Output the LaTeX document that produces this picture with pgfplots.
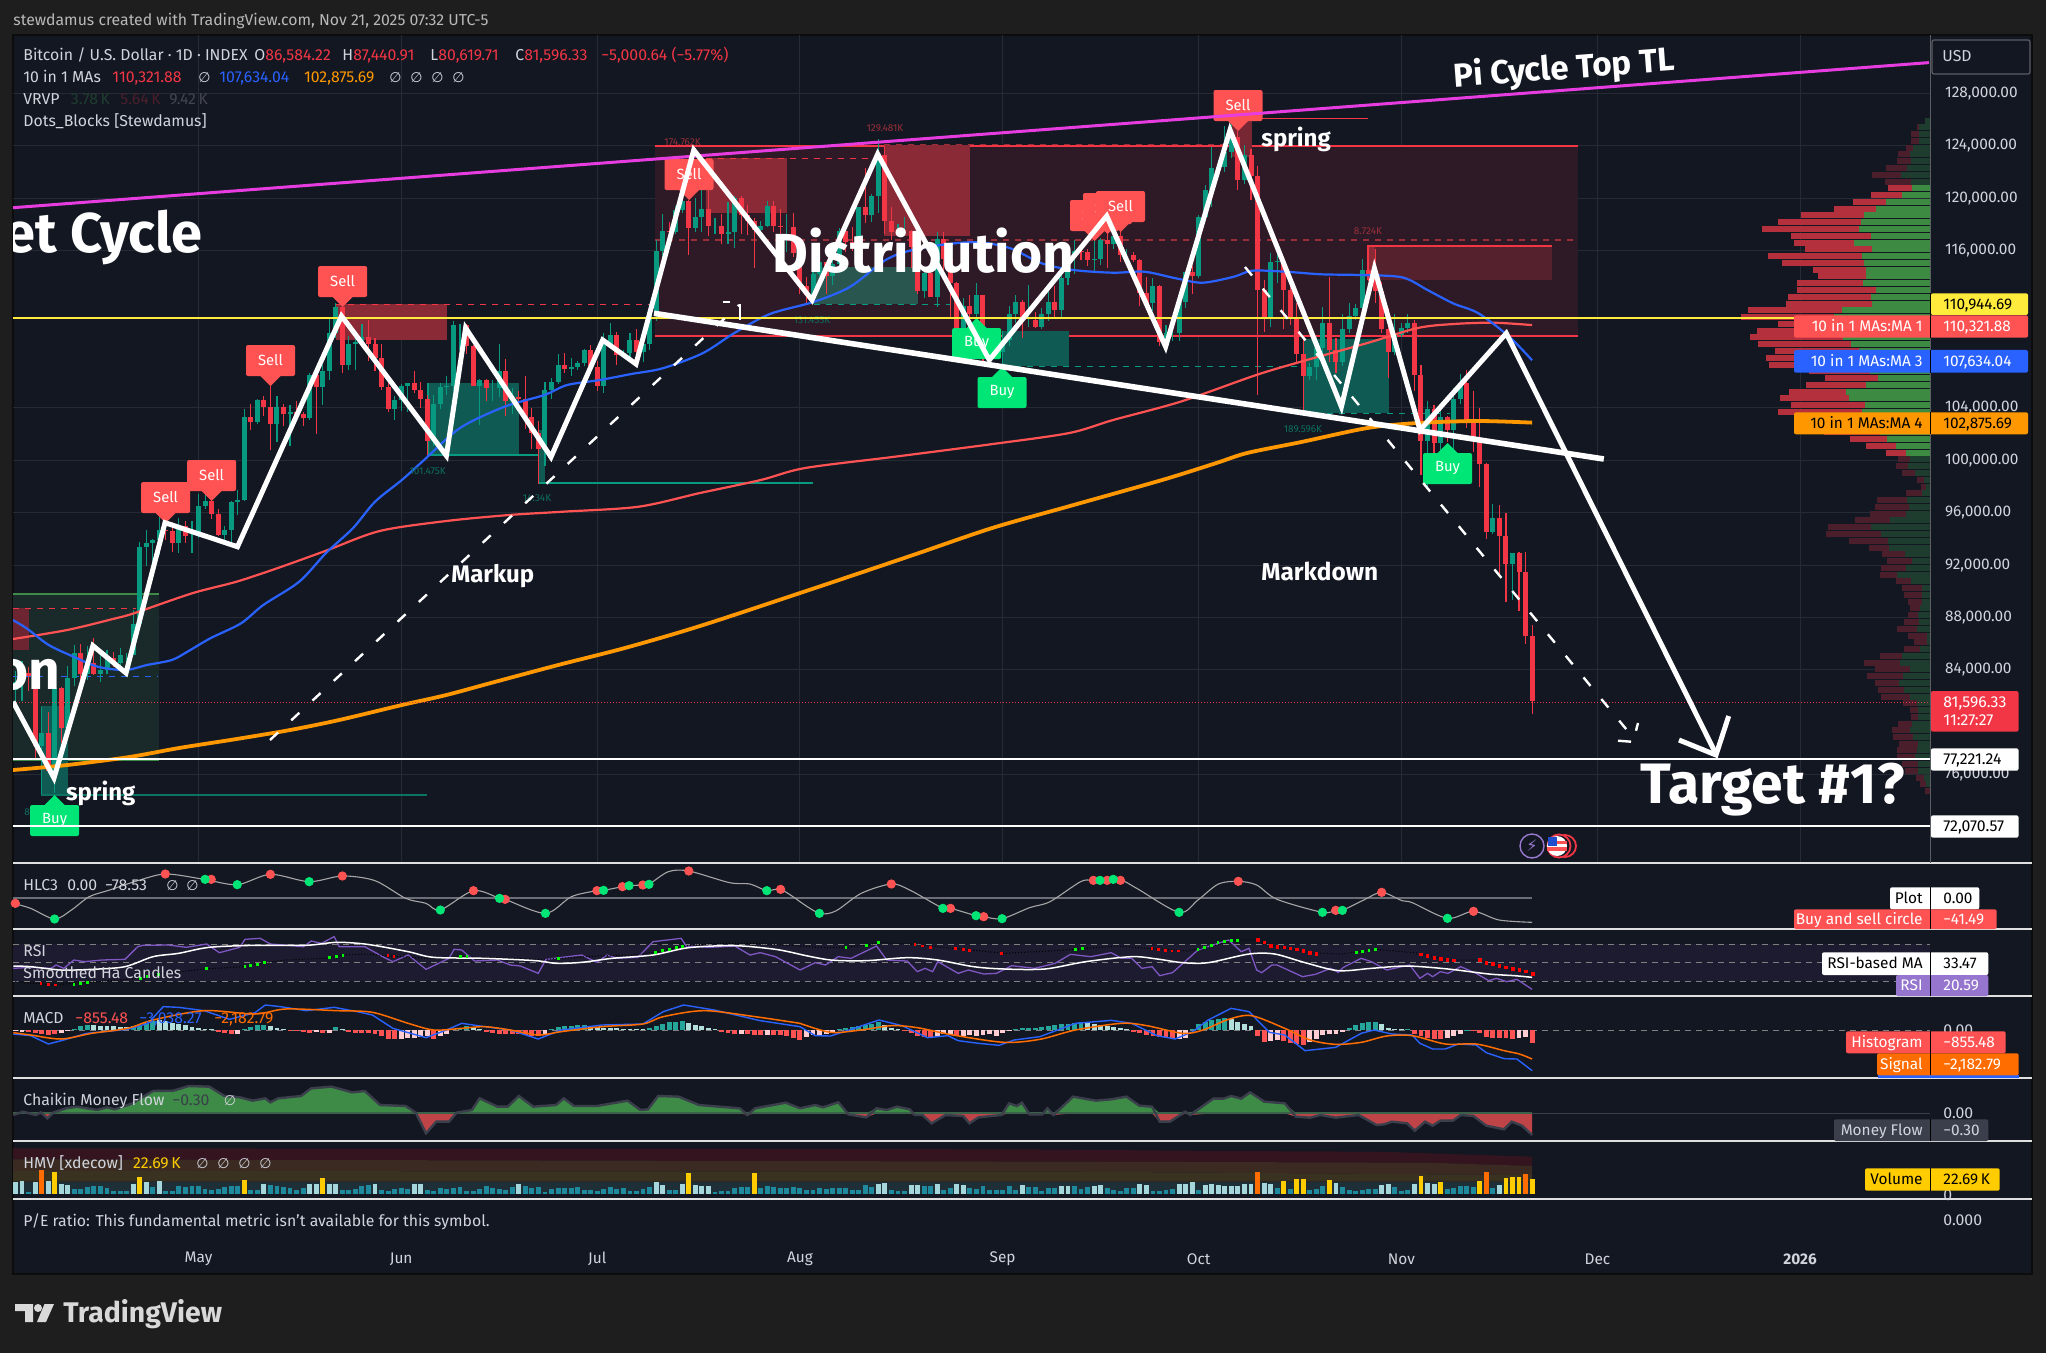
\documentclass[border=0pt]{standalone}
\usepackage{pgfplots}
\pgfplotsset{compat=1.18}
\usepackage{pgfplotstable}
\usepackage{fontspec}
\setmainfont{Fira Sans}
\newfontfamily\symf{DejaVu Sans}
\newcommand\fs[1]{\fontsize{#1}{#1}\selectfont}
\newcommand\nul{{\symf\fs{7}∅}}
\definecolor{page}{HTML}{1E1E1E}
\definecolor{chart}{HTML}{131722}
\definecolor{tick}{HTML}{D1D4DC}
\definecolor{cup}{HTML}{089981}
\definecolor{cdn}{HTML}{F23645}
\definecolor{tvred}{HTML}{FF5252}
\definecolor{tvgreen}{HTML}{00E676}
\definecolor{tvblue}{HTML}{2962FF}
\definecolor{tvorange}{HTML}{FF9800}
\definecolor{macdorange}{HTML}{FF6D00}
\definecolor{tvyellow}{HTML}{FFEB3B}
\definecolor{volyellow}{HTML}{FFCC00}
\definecolor{rsi}{HTML}{7E57C2}
\definecolor{rsitag}{HTML}{9575CD}
\definecolor{pink}{HTML}{E63CE0}
\definecolor{zonebg}{HTML}{2D1A26}
\definecolor{zonered}{HTML}{892A36}
\definecolor{zonegreen}{HTML}{0F5A52}
\definecolor{zonegreenb}{HTML}{2A5650}
\definecolor{lightzone}{HTML}{1A2A2A}
\definecolor{kred}{HTML}{9A2F3A}
\definecolor{kgreen}{HTML}{0D6E5E}
\definecolor{vrg}{HTML}{3D8A43}
\definecolor{vrr}{HTML}{B3303C}
\definecolor{vdg}{HTML}{1F3D2F}
\definecolor{vdr}{HTML}{4A1F2B}
\definecolor{histt}{HTML}{26A69A}
\definecolor{histl}{HTML}{B2DFDB}
\definecolor{histp}{HTML}{FFCDD2}
\definecolor{volt}{HTML}{1F8A9E}
\definecolor{voll}{HTML}{A5D6DC}
\definecolor{cmfg}{HTML}{3D8B46}
\definecolor{cmfr}{HTML}{BF4448}
\definecolor{cmfl}{HTML}{3A3F4B}
\definecolor{band}{HTML}{1D1B30}
\definecolor{lineg}{HTML}{6B6E76}
\definecolor{HMVa}{HTML}{34141F}
\definecolor{HMVb}{HTML}{3A2A22}
\definecolor{HMVc}{HTML}{3A3220}
\definecolor{HMVd}{HTML}{1E2F38}

% candles: day (0 = 1 May 2025), open, high, low, close
\pgfplotstableread{
d o h l c
-28 82500 83900 81200 83100
-27 83100 84700 81600 83800
-26 83800 84200 82400 83500
-25 83500 83800 77100 78200
-24 78200 81200 74500 79200
-23 79200 80800 76200 76300
-22 76300 83500 74600 82600
-21 82600 82700 78400 79600
-20 79600 84300 79000 83400
-19 83400 85900 82800 85300
-18 85300 86000 83000 83700
-17 83700 85800 83200 84500
-16 84500 86400 83600 83700
-15 83700 85500 83100 84000
-14 84000 85500 83700 84900
-13 84900 85400 84200 84500
-12 84500 85700 84400 85100
-11 85100 85300 83900 85100
-10 85100 88600 85100 87500
-9 87500 93800 87100 93400
-8 93400 94700 91900 93700
-7 93700 94000 91700 93900
-6 93900 95700 92800 94700
-5 94700 95300 93900 94600
-4 94600 95300 93000 93700
-3 93700 95600 92900 95000
-2 95000 95400 93700 94200
-1 94200 95400 92900 94200
0 94200 97400 94100 96500
1 96500 97900 96300 96900
2 96900 97000 95500 95900
3 95900 96300 94200 94300
4 94300 95000 93500 94700
5 94700 96900 93400 96800
6 96800 97700 95800 97000
7 97000 103900 96900 103300
8 103300 104300 102300 102900
9 102900 104700 102800 104600
10 104600 104900 103400 104100
11 104100 105800 100800 102800
12 102800 104900 101400 104100
13 104100 104300 102600 103500
14 103500 104200 101100 103700
15 103700 104500 103100 103500
16 103500 103700 102600 103200
17 103200 106700 103100 106500
18 106500 107100 102000 105600
19 105600 107300 104200 106800
20 106800 110800 106100 109700
21 109700 112000 109300 111700
22 111700 111900 106700 107300
23 107300 109500 106900 108900
24 108900 109300 106900 109000
25 109000 110400 108700 109400
26 109400 110700 107600 108900
27 108900 109300 106800 107800
28 107800 108900 105400 105600
29 105600 106300 103700 103900
30 103900 104900 103100 104600
31 104600 105800 103800 105700
32 105700 105900 103700 105900
33 105900 106800 105100 105400
34 105400 106000 104000 104700
35 104700 105000 100400 101500
36 101500 105000 101100 104300
37 104300 105900 103900 105600
38 105600 106400 105000 105700
39 105700 110600 105300 110300
40 110300 110400 108400 110300
41 110300 110400 108100 108700
42 108700 108800 105700 105700
43 105700 106200 102700 106100
44 106100 106200 104500 105500
45 105500 106100 104500 105500
46 105500 108900 104800 106800
47 106800 107700 103400 104500
48 104500 105500 103500 104800
49 104800 105300 103900 104700
50 104700 106400 102400 103300
51 103300 104000 100900 102100
52 102100 103000 98200 100900
53 100900 106000 99600 105400
54 105400 106300 104700 106000
55 106000 108100 105800 107300
56 107300 108200 106700 107000
57 107000 107800 106400 107100
58 107100 107600 106900 107400
59 107400 108500 107200 108400
60 108400 108800 106700 107100
61 107100 107600 105300 105700
62 105700 109700 105100 108900
63 108900 110500 108600 109600
64 109600 109800 107300 108000
65 108000 108400 107800 108200
66 108200 109700 107800 109200
67 109200 110000 107500 108300
68 108300 109200 107500 108900
69 108900 111900 108400 111300
70 111300 116800 110600 116000
71 116000 118800 115200 117500
72 117500 118200 116900 117400
73 117400 119400 117300 119100
74 119100 123200 118900 119800
75 119800 119900 115700 117700
76 117700 120000 117400 118600
77 118600 120800 117400 119200
78 119200 120600 117100 117900
79 117900 118500 117300 117900
80 117900 118800 116500 117300
81 117300 119700 116500 117400
82 117400 120200 116200 120000
83 120000 120200 117300 118700
84 118700 119500 117200 118300
85 118300 118500 114700 117600
86 117600 118300 117200 117900
87 117900 119800 117800 119400
88 119400 119800 117400 117900
89 117900 119200 117000 117800
90 117800 118800 115900 117800
91 117800 118900 115500 115800
92 115800 116000 112700 113300
93 113300 114000 112000 112600
94 112600 114500 111900 114200
95 114200 115700 114100 115100
96 115100 115100 112700 114100
97 114100 115700 113400 115000
98 115000 117700 114300 117500
99 117500 117600 115900 116700
100 116700 117800 116000 116500
101 116500 119300 116500 119300
102 119300 122300 118100 118700
103 118700 120300 118200 120200
104 120200 124500 118900 123300
105 123300 124000 117300 118300
106 118300 119300 116800 117400
107 117400 118000 117300 117500
108 117500 118600 117200 117500
109 117500 117600 114700 116300
110 116300 116800 112700 112900
111 112900 114600 112400 114300
112 114300 114800 112600 112500
113 112500 117400 111700 116900
114 116900 117400 114500 115400
115 115400 115700 110800 113500
116 113500 113600 108700 110100
117 110100 112400 108700 111800
118 111800 112600 110300 111200
119 111200 113500 110900 112600
120 112600 112600 107500 108400
121 108400 108900 107400 108800
122 108800 109500 108000 108300
123 108300 109900 107300 109200
124 109200 111800 108700 111200
125 111200 112600 110500 112100
126 112100 112200 109300 110700
127 110700 113400 110200 110700
128 110700 111300 110100 110200
129 110200 111600 110000 111200
130 111200 112900 110600 112100
131 112100 113300 110800 111500
132 111500 114300 110900 113900
133 113900 115400 113400 115500
134 115500 116800 114200 116000
135 116000 116300 115300 115900
136 115900 116100 114800 115300
137 115300 116800 114300 115400
138 115400 117000 114900 116800
139 116800 117900 114700 116500
140 116500 117900 116100 117100
141 117100 117500 115100 115700
142 115700 116100 115400 115700
143 115700 115900 115100 115300
144 115300 115400 111800 112800
145 112800 114000 111600 112000
146 112000 113900 111400 113300
147 113300 113400 108700 109000
148 109000 110300 108600 109700
149 109700 110000 109100 109700
150 109700 112400 109100 112100
151 112100 114400 111600 114400
152 114400 114800 112700 114100
153 114100 118700 113900 118600
154 118600 121000 118300 120600
155 120600 123900 119300 122300
156 122300 122900 121600 122400
157 122400 125500 122000 123500
158 123500 126200 123100 124700
159 124700 125100 120600 121400
160 121400 124100 121100 123300
161 123300 123800 119900 121700
162 121700 122500 105000 113000
163 113000 113800 109800 110800
164 110800 115800 110200 115100
165 115100 115900 113500 115200
166 115200 115500 110000 113000
167 113000 113600 110300 110800
168 110800 112000 107400 108100
169 108100 109200 103700 106400
170 106400 107400 106100 107100
171 107100 109400 106100 108600
172 108600 111700 107400 110500
173 110500 114000 107500 108400
174 108400 109300 106700 107500
175 107500 111200 107200 110000
176 110000 112000 109700 111000
177 111000 111900 110700 111600
178 111600 115400 111300 114500
179 114500 116400 113700 114100
180 114100 116100 112000 112900
181 112900 113600 109700 110000
182 110000 111600 106300 108300
183 108300 111200 108000 109600
184 109600 110500 109400 110100
185 110100 111200 109700 110500
186 110500 110700 105300 106500
187 106500 107300 98900 101500
188 101500 104500 98000 103900
189 103900 104200 100200 101300
190 101300 104000 99200 103300
191 103300 103400 101400 102300
192 102300 105500 100900 104700
193 104700 106600 104300 105900
194 105900 106900 102500 103000
195 103000 105300 100600 101700
196 101700 104000 98000 99700
197 99700 99800 94000 94500
198 94500 96700 94400 95600
199 95600 96600 91200 94200
200 94200 96000 89200 92100
201 92100 92900 89300 92900
202 92900 93000 88500 91500
203 91500 93000 86000 86584
204 86584 87441 80620 81596
}\candles

\pgfplotstableread{
d p
-28.4 86357
-20.1 87044
-13.3 87860
-9.9 88318
-1.0 89845
5.8 90731
12 91754
19.5 93097
27.7 94601
37.9 95365
47.5 95823
55.7 96075
67.3 96456
76.7 97502
86 98495
92.8 99411
106.5 100273
121.5 101243
133.2 102083
139.9 103075
150.2 104472
161.8 106510
169 107579
178.8 108953
186.5 110098
192 110404
198.1 110503
204 110322
}\maone
\pgfplotstableread{
d p
-28.4 87807
-26.3 87173
-22.9 85898
-19.1 85005
-15.4 84242
-11.2 83990
-7.9 84372
-4.1 84753
-1.7 85387
1.8 86410
6.5 87555
9.9 88952
15.4 90731
19.5 92922
23.6 94807
27 96838
31.1 98495
34.5 100021
40 102464
46.8 104090
52.9 104983
56.4 105747
61.4 106129
66.2 106587
71 107022
77.1 108167
81.9 109694
87.4 111167
94.2 112106
99.7 113251
105.1 115289
109.2 116053
114.7 116511
119.5 116641
124.2 116182
129 115037
133.8 114526
139.9 114320
144.7 114396
149.5 113892
153.6 113556
158.4 114015
161.2 114472
166.3 114396
171.7 114198
177.5 114144
184.1 113969
188 112999
191.9 111984
195.8 111220
200.5 109434
204 107634
}\mathree
\pgfplotstableread{
d p
-28.4 76356
-20.1 76738
-10.6 77349
-3 78035
5.8 78723
14 79410
21.5 80173
31.1 81318
37.9 82082
44.7 82998
55 84372
65.2 85669
76.7 87348
93.4 90097
109.3 92769
121.4 94830
133.3 96510
147.4 98495
155.7 99792
160.4 100556
168.7 101396
178.8 102464
186.5 102846
195.7 102999
204 102876
}\mafour

% volume profile: row, left end of the row, boundary red/green (right edge 1339)
\pgfplotstableread{
z l b
122 1330 1330
142 1314 1318
161 1302 1318
182 1302 1318
203 1292 1305
222 1276 1300
243 1274 1302
264 1253 1294
284 1225 1282
305 1251 1302
}\vpa
\pgfplotstableread{
z l b
325 1257 1304
345 1222 1284
365 1188 1253
386 1150 1233
406 1085 1208
426 1040 1204
447 1009 1200
467 1066 1223
488 1072 1190
508 1093 1225
528 1020 1205
548 1048 1208
569 1109 1212
589 1119 1213
609 1076 1206
630 1076 1233
650 1060 1223
671 1056 1225
691 981 1165
711 967 1150
732 1040 1170
752 999 1170
772 985 1168
792 1001 1184
812 1034 1200
833 1016 1190
854 1022 1205
873 1100 1220
893 1133 1236
914 1095 1213
935 1062 1173
955 1044 1180
975 1066 1211
995 1040 1205
1016 1100 1215
1036 1100 1230
1056 1130 1240
1077 1182 1255
1097 1213 1272
1118 1253 1291
}\vpb
\pgfplotstableread{
z l b
1138 1275 1300
1158 1271 1296
1178 1284 1310
1200 1314 1328
1220 1322 1331
1240 1292 1323
1260 1235 1293
1280 1231 1297
1301 1221 1292
1321 1192 1261
1341 1139 1223
1361 1135 1243
1382 1180 1256
1403 1219 1259
1423 1245 1289
1443 1255 1303
1463 1243 1291
1484 1241 1273
1504 1271 1302
1524 1284 1323
1544 1288 1323
1565 1296 1323
1585 1300 1319
1605 1296 1315
1625 1288 1317
1646 1274 1313
1667 1296 1333
1687 1308 1334
1707 1288 1319
1728 1241 1283
1748 1208 1280
1768 1231 1300
1788 1215 1286
1808 1231 1278
1829 1237 1288
1850 1243 1300
1870 1286 1314
1890 1300 1316
1910 1302 1316
1931 1276 1304
1951 1265 1300
1971 1267 1306
1991 1278 1315
2011 1274 1313
2031 1274 1310
2052 1284 1315
2072 1290 1315
2093 1312 1328
2113 1320 1331
2133 1330 1338
}\vpc

% MACD histogram h (colour hc) and volume v (colour vc) per day
\pgfplotstableread{
d h hc v vc
-28 -3 2 36 1
-27 -4 2 38 1
-26 -4 3 6 0
-25 -7 3 35 1
-24 -10 3 70 3
-23 -14 3 38 1
-22 -12 3 64 2
-21 -8 2 30 1
-20 -3 2 25 1
-19 5 0 13 0
-18 12 0 14 0
-17 15 0 21 0
-16 15 1 22 0
-15 14 1 22 0
-14 13 1 16 0
-13 12 1 7 0
-12 11 1 7 0
-11 10 1 8 0
-10 12 0 30 1
-9 17 0 50 2
-8 22 0 35 1
-7 27 0 20 0
-6 30 1 37 1
-5 27 1 8 0
-4 23 1 7 0
-3 19 1 23 0
-2 15 1 19 0
-1 11 1 22 0
0 6 1 24 0
1 4 1 14 0
2 3 1 11 0
3 -4 3 14 0
4 -8 3 20 0
5 -11 3 22 0
6 -10 2 24 0
7 5 0 41 2
8 10 0 12 0
9 15 0 10 0
10 17 0 29 1
11 14 1 25 0
12 8 1 22 0
13 4 1 20 0
14 -2 3 18 0
15 -3 3 12 0
16 -6 3 18 0
17 -8 3 30 1
18 -6 2 28 1
19 -7 3 46 2
20 -8 2 30 1
21 9 0 28 1
22 3 1 12 0
23 -5 3 10 0
24 -8 3 14 0
25 -8 3 22 0
26 -9 3 25 0
27 -10 3 28 1
28 -18 3 12 0
29 -25 3 8 0
30 -27 3 15 0
31 -26 2 17 0
32 -24 2 14 0
33 -22 2 30 1
34 -20 2 28 1
35 -18 2 12 0
36 -25 3 8 0
37 -18 2 17 0
38 -10 2 14 0
39 3 0 16 0
40 8 0 20 0
41 13 0 8 0
42 10 1 8 0
43 5 1 15 0
44 -5 3 22 0
45 -8 3 17 0
46 -10 3 14 0
47 -10 3 12 0
48 -12 3 20 0
49 -12 3 30 1
50 -15 3 22 0
51 -16 3 18 0
52 -18 3 20 0
53 -15 2 5 0
54 3 0 13 0
55 9 0 17 0
56 12 0 18 0
57 13 0 18 0
58 15 0 20 0
59 17 0 12 0
60 12 1 10 0
61 9 1 7 0
62 7 1 14 0
63 7 1 20 0
64 6 1 15 0
65 5 1 18 0
66 3 1 8 0
67 3 1 8 0
68 3 1 15 0
69 8 0 20 0
70 14 0 35 1
71 20 0 25 1
72 24 0 10 0
73 26 0 12 0
74 28 0 30 1
75 22 1 62 2
76 17 1 25 1
77 12 1 24 1
78 8 1 24 1
79 4 1 6 0
80 -5 3 8 0
81 -9 3 8 0
82 -12 3 18 0
83 -10 2 20 0
84 -12 3 20 0
85 -15 3 62 2
86 -15 3 18 0
87 -13 2 22 0
88 -15 3 20 0
89 -15 3 18 0
90 -18 3 17 0
91 -24 3 20 0
92 -28 3 18 0
93 -20 2 10 0
94 -14 2 12 0
95 -14 2 16 0
96 -12 2 15 0
97 -8 2 16 0
98 3 0 18 0
99 6 0 16 0
100 10 0 12 0
101 13 0 10 0
102 16 0 25 0
103 20 0 20 0
104 24 0 30 1
105 15 1 33 1
106 8 1 12 0
107 4 1 8 0
108 -3 3 8 0
109 -8 3 25 1
110 -17 3 27 1
111 -20 3 22 0
112 -22 3 22 0
113 -18 2 28 1
114 -12 2 12 0
115 -10 2 17 0
116 -15 3 29 1
117 -18 2 25 1
118 -15 2 18 0
119 -18 2 15 0
120 -15 2 22 0
121 -12 2 10 0
122 -17 2 12 0
123 -8 2 12 0
124 -3 2 22 0
125 5 0 10 0
126 7 0 25 1
127 8 0 20 0
128 8 0 20 0
129 10 0 8 0
130 13 0 18 0
131 15 0 18 0
132 18 0 24 1
133 20 0 24 1
134 22 0 22 0
135 25 0 15 0
136 24 1 20 0
137 20 1 24 1
138 17 1 25 1
139 13 1 18 0
140 10 1 12 0
141 7 1 8 0
142 3 1 18 0
143 -4 3 18 0
144 -8 3 30 1
145 -13 3 25 1
146 -16 3 8 0
147 -20 3 8 0
148 -24 3 12 0
149 -27 3 15 0
150 -26 2 28 1
151 -22 2 30 1
152 3 0 35 1
153 18 0 12 0
154 25 0 25 1
155 30 0 30 1
156 35 0 27 1
157 36 0 22 1
158 33 1 24 1
159 25 1 24 1
160 20 1 28 1
161 12 1 30 1
162 -16 3 65 3
163 -35 3 32 1
164 -32 2 30 1
165 -30 2 18 0
166 -33 3 38 2
167 -38 3 15 0
168 -42 3 44 2
169 -44 3 44 2
170 -35 2 10 0
171 -25 2 15 0
172 -15 2 22 0
173 -12 2 41 2
174 -10 2 32 1
175 -5 2 20 0
176 8 0 12 0
177 15 0 8 0
178 22 0 12 0
179 26 0 14 0
180 26 0 15 0
181 18 1 25 1
182 8 1 28 1
183 3 1 20 0
184 3 1 8 0
185 5 0 10 0
186 -12 3 30 1
187 -17 3 53 2
188 -22 3 32 1
189 -25 3 30 1
190 -26 3 35 2
191 -22 2 15 0
192 -18 2 17 0
193 -10 2 22 0
194 2 0 22 0
195 -3 3 20 0
196 -7 3 38 2
197 -20 3 65 3
198 -22 3 16 0
199 -24 3 25 1
200 -24 3 47 2
201 -25 3 49 2
202 -24 2 50 2
203 -20 2 58 3
204 -38 3 44 2
}\daily

% lower panes: x and z are read along the pane (A = left half, B = right half)
\pgfplotstableread{
x z
26 130
60 145
107 177
140 150
175 110
215 90
270 62
325 42
400 58
465 74
530 43
606 65
671 48
735 62
795 115
835 130
863 150
928 92
979 115
990 118
1069 160
1120 110
1170 92
1183 91
1220 80
1233 77
1260 75
1272 73
1310 35
1350 33
1430 68
1470 72
1503 92
1530 88
1568 125
}\hlcA
\pgfplotstableread{
x z
0 125
38 160
70 153
120 100
179 72
215 90
280 145
295 145
345 167
360 170
396 176
450 143
490 125
550 65
575 61
628 61
660 85
743 157
780 120
820 72
859 64
895 75
935 118
1024 157
1050 151
1063 151
1105 120
1140 97
1180 122
1200 128
1269 175
1320 154
1370 180
1435 187
}\hlcB
\pgfplotstableread{
x z
26 325
60 322
100 325
110 315
125 325
145 300
165 305
200 300
245 298
270 260
280 256
330 255
365 262
405 252
430 278
470 262
480 238
510 235
530 252
595 260
610 243
630 250
655 230
665 260
715 260
750 290
770 305
800 285
835 328
880 295
890 268
905 270
930 303
975 300
1000 315
1020 318
1055 340
1070 298
1140 285
1170 307
1190 285
1210 295
1250 292
1280 245
1335 235
1345 258
1390 262
1440 258
1470 285
1490 278
1520 290
1568 330
}\rsiA
\pgfplotstableread{
x z
0 330
30 308
50 315
75 290
100 295
150 258
170 300
210 303
230 335
245 325
260 335
270 305
310 340
330 330
360 342
385 340
415 317
460 325
500 310
530 283
570 290
610 278
630 295
650 295
670 325
690 320
705 347
730 338
780 270
840 240
865 275
880 265
895 330
905 338
925 315
935 315
985 350
1010 343
1040 325
1055 337
1065 322
1100 295
1120 305
1150 330
1195 315
1215 355
1230 340
1240 350
1255 335
1270 340
1295 320
1325 340
1350 362
1365 355
1385 365
1405 358
1435 388
}\rsiB
\pgfplotstableread{
x z
26 318
60 320
120 330
180 328
245 320
300 290
350 280
410 262
500 256
600 256
660 247
720 253
800 275
850 292
950 295
1050 302
1090 310
1140 307
1200 295
1280 285
1350 263
1440 257
1520 268
1568 283
}\rmaA
\pgfplotstableread{
x z
0 283
60 300
130 302
210 293
270 300
340 320
400 327
480 327
560 305
650 290
700 297
750 308
800 308
880 282
930 282
990 308
1055 332
1120 325
1190 318
1270 327
1350 342
1400 347
1435 352
}\rmaB
\pgfplotstableread{
x z
30 365
80 372
110 375
140 370
190 365
270 355
310 342
400 327
480 320
510 310
560 300
640 295
670 285
720 282
760 288
840 295
900 290
1000 295
1060 298
1100 295
1170 288
1240 285
1290 275
1340 258
1400 250
1480 250
1568 258
}\haA
\pgfplotstableread{
x z
0 258
50 263
90 262
130 255
160 247
220 253
300 265
400 280
500 272
560 265
620 258
700 267
760 273
800 262
850 240
895 240
930 258
1000 278
1060 282
1130 268
1215 280
1270 300
1330 300
1370 320
1435 342
}\haB
\pgfplotstableread{
x z
26 522
60 527
95 552
125 540
170 520
250 508
290 490
320 440
350 442
400 452
450 478
500 458
520 435
550 440
600 452
655 442
700 455
730 465
770 505
835 533
875 510
905 490
950 500
1000 510
1055 537
1100 510
1180 495
1260 492
1300 455
1340 435
1400 450
1490 482
1568 500
}\mcdA
\pgfplotstableread{
x z
0 500
30 527
60 528
100 508
155 480
200 497
250 533
290 527
310 542
350 550
390 556
420 540
470 530
540 490
610 481
650 490
700 527
735 537
770 515
800 480
845 445
880 455
920 517
950 525
990 572
1050 562
1100 520
1125 510
1160 522
1200 525
1215 550
1240 567
1265 567
1290 552
1325 555
1345 578
1380 596
1405 597
1435 632
}\mcdB
\pgfplotstableread{
x z
26 518
60 525
120 537
180 520
250 505
300 480
400 452
500 462
560 447
660 452
730 457
800 490
850 510
905 505
950 500
1000 510
1055 525
1100 515
1180 500
1260 492
1300 470
1380 452
1480 470
1568 490
}\sigA
\pgfplotstableread{
x z
0 490
60 517
120 510
180 497
230 503
300 525
400 547
470 538
540 510
630 490
680 497
750 520
790 510
840 478
885 467
950 505
1000 540
1050 553
1100 547
1150 528
1200 527
1265 552
1325 552
1380 572
1410 582
1435 597
}\sigB
\pgfplotstableread{
x z
26 765
45 755
70 765
80 757
93 775
105 757
130 745
150 740
170 745
190 750
210 742
225 748
260 730
275 715
300 693
340 692
370 678
410 680
440 708
470 712
495 722
520 715
530 727
545 715
590 708
610 685
650 680
690 697
715 693
745 735
795 738
815 758
835 820
855 785
880 785
895 758
925 750
940 715
975 740
995 740
1017 708
1045 740
1090 735
1105 715
1125 738
1170 738
1230 722
1255 750
1270 748
1290 708
1330 710
1370 735
1450 745
1465 765
1480 745
1540 728
1568 745
}\cmfA
\pgfplotstableread{
x z
0 745
30 735
45 742
75 727
95 763
130 772
150 745
170 750
190 740
215 748
225 765
240 765
258 790
285 765
320 768
332 790
350 772
395 765
410 730
425 738
435 728
450 763
475 763
485 745
497 765
535 710
580 722
610 718
640 710
665 737
690 740
705 785
725 785
755 755
765 765
810 716
830 716
845 708
865 716
882 697
910 725
950 730
972 770
1000 773
1020 765
1050 773
1095 765
1130 795
1145 793
1160 785
1190 790
1205 812
1225 785
1240 797
1255 782
1280 782
1295 765
1320 768
1345 797
1380 808
1395 785
1415 797
1435 825
}\cmfB

\pgfplotsset{
 fullw/.style={scale only axis,width=958.5pt,anchor=north west,hide axis},
 main/.style={fullw,height=414pt,at={(6.5pt,-17.5pt)}},
 dayprice/.style={main,xmin=-28.38,xmax=264.87,ymin=69260,ymax=132466},
 pxaxis/.style={main,xmin=13,xmax=1930,ymin=35,ymax=863,y dir=reverse},
 pane/.style={fullw,xmin=25.48,xmax=3782.8},
 wick/.style={draw=none,mark=none,forget plot,error bars/.cd,y dir=both,y explicit,error mark=none,error bar style={line width=.55pt,color=#1}},
 body/.style={draw=none,mark=none,forget plot,error bars/.cd,y dir=both,y explicit,error mark=none,error bar style={line width=2.5pt,color=#1}},
}
\newcommand\sellb[3][Sell]{%
 \fill[tvred,rounded corners=1pt] ({#2-24.5},#3) rectangle ({#2+24.5},{#3+31});
 \fill[tvred] ({#2-11},{#3+30}) -- ({#2+11},{#3+30}) -- (#2,{#3+41}) -- cycle;
 \node[text=white,font=\fs{7.4}] at (#2,{#3+15}) {#1};}
\newcommand\buyb[3][Buy]{%
 \fill[tvgreen,rounded corners=1pt] ({#2-24.5},#3) rectangle ({#2+24.5},{#3+31});
 \fill[tvgreen] ({#2-11},{#3+1}) -- ({#2+11},{#3+1}) -- (#2,{#3-10}) -- cycle;
 \node[text=white,font=\fs{7.4}] at (#2,{#3+15}) {#1};}
\newcommand\T[4][tick]{\node[anchor=base west,inner sep=0pt,text=#1,font=\fs{7.9}] at (#2,#3) {#4};}
\newcommand\K[4][kred]{\node[text=#1,font=\fs{5},inner sep=0pt] at (#2,#3) {#4};}
\newcommand\tagb[8]{% x1 x2 y1 y2 fill textcolour label value
 \fill[#5,rounded corners=1pt] (#1,#3) rectangle (#2,#4);
 \draw[black,line width=.5pt] (1930,#3) -- (1930,#4);
 \node[anchor=base east,inner sep=0pt,text=#6,font=\fs{7.7}] at (1923,{(#3+#4)/2+5}) {#7};
 \node[anchor=base west,inner sep=0pt,text=#6,font=\fs{7.7}] at (1943,{(#3+#4)/2+5}) {#8};}

\begin{document}
\begin{tikzpicture}[x=0.5pt,y=-0.5pt]
\path[use as bounding box] (0,0) rectangle (2046,1353);
\fill[page] (0,0) rectangle (2046,1353);
\fill[chart] (13,35) rectangle (2032,1274);
\draw[black!60!page,line width=.8pt] (13,35) rectangle (2032,1274);

% price scale, grid
\begin{axis}[scale only axis,width=958.5pt,height=414pt,at={(6.5pt,-17.5pt)},anchor=north west,
 xmin=-28.38,xmax=264.87,ymin=69260,ymax=132466,
 axis line style={draw=none},major tick length=0pt,
 axis y line*=right,axis x line*=bottom,
 xtick={0,31,61,92,123,153,184,214,245},xticklabels={},
 ytick={76000,84000,88000,92000,96000,100000,104000,116000,120000,124000,128000},
 scaled y ticks=false,
 grid=major,grid style={color=chart!92!white,line width=.5pt},
 yticklabel style={text=tick,font=\fs{7.7},anchor=west,xshift=4pt,
  /pgf/number format/fixed,/pgf/number format/fixed zerofill,/pgf/number format/precision=2,/pgf/number format/1000 sep={,},/pgf/number format/assume math mode=true},
]
\addplot[draw=none] coordinates {(0,100000)};
\end{axis}

% volume profile
\begin{axis}[fullw,height=414pt,at={(6.5pt,-17.5pt)},x dir=reverse,xmin=0,xmax=3776,ymin=-135,ymax=2349,y dir=reverse]
\addplot[xcomb,vdr,line width=3pt] table[x expr=1339-\thisrow{l},y=z] \vpa;
\addplot[xcomb,vdg,line width=3pt] table[x expr=1339-\thisrow{b},y=z] \vpa;
\addplot[xcomb,vrr,line width=3pt] table[x expr=1339-\thisrow{l},y=z] \vpb;
\addplot[xcomb,vrg,line width=3pt] table[x expr=1339-\thisrow{b},y=z] \vpb;
\addplot[xcomb,vdr,line width=3pt] table[x expr=1339-\thisrow{l},y=z] \vpc;
\addplot[xcomb,vdg,line width=3pt] table[x expr=1339-\thisrow{b},y=z] \vpc;
\end{axis}

% zones
\begin{axis}[pxaxis]
\fill[lightzone] (13,594) rectangle (158.5,760);
\draw[cmfg,line width=1pt] (13,594) -- (158.5,594);
\draw[cmfg,line width=.6pt] (13,760) -- (158.5,760);
\fill[zonered!75!chart] (13,608) rectangle (29,650);
\draw[cdn,dashed,line width=.5pt] (13,608) -- (136,608);
\draw[tvblue,dashed,line width=.5pt] (13,676.7) -- (158,676.7);
\fill[zonegreen] (41.5,706) rectangle (68,795);
\draw[cup!70!chart,line width=.6pt] (41.5,706) -- (41.5,795) -- (427,795);
\fill[zonebg] (655,145.7) rectangle (1578,335.7);
\draw[cdn,line width=.8pt] (655,145.7) -- (1578,145.7);
\draw[cdn,line width=.8pt] (655,335.7) -- (1578,335.7);
\draw[kred,dashed,line width=.6pt] (655,240) -- (1575,240);
\fill[zonered] (336,304) rectangle (447,340);
\draw[cdn,dashed,line width=.5pt] (336,304) -- (655,304);
\fill[zonered] (706,158) rectangle (787,213);
\draw[cdn,dashed,line width=.5pt] (706,158) -- (880,158);
\fill[zonered] (884,145) rectangle (970,235.7);
\draw[kred,dashed,line width=.5pt] (884,144.5) -- (1232,144.5);
\fill[zonered!85!chart] (1232,118) rectangle (1252,157);
\draw[cdn,line width=.6pt] (1232,118.5) -- (1368,118.5);
\fill[zonered!55!chart] (1368,246) rectangle (1552,280);
\fill[zonered] (1368,246) rectangle (1375,280);
\draw[cdn,line width=.6pt] (1368,280) -- (1368,246) -- (1552,246);
\fill[zonegreenb] (814,267) rectangle (918,304);
\draw[cup,dashed,line width=.5pt] (814,304) -- (950,304);
\fill[zonegreen] (1003,331) rectangle (1069,366);
\draw[cup,dashed,line width=.5pt] (1003,366) -- (1303,366);
\fill[zonegreen] (428,383) rectangle (519,455);
\draw[cup,line width=.6pt] (428,383) -- (428,455) -- (540,455);
\fill[zonegreen] (539,430) rectangle (545,483);
\draw[cup,line width=.6pt] (539,483) -- (813,483);
\fill[zonegreen] (1303,339) rectangle (1389,413);
\draw[cup,dashed,line width=.5pt] (1303,413) -- (1450,413);
\end{axis}

% candles and moving averages
\begin{axis}[dayprice]
\addplot[wick=cup] table[x=d,y=c,y error plus expr={(\thisrow{c}>=\thisrow{o})*(\thisrow{h}-\thisrow{c})},y error minus expr={(\thisrow{c}>=\thisrow{o})*(\thisrow{c}-\thisrow{l})}] \candles;
\addplot[wick=cdn] table[x=d,y=c,y error plus expr={(\thisrow{c}<\thisrow{o})*(\thisrow{h}-\thisrow{c})},y error minus expr={(\thisrow{c}<\thisrow{o})*(\thisrow{c}-\thisrow{l})}] \candles;
\addplot[body=cup] table[x=d,y=o,y error plus expr={(\thisrow{c}>=\thisrow{o})*(\thisrow{c}-\thisrow{o})},y error minus expr=0] \candles;
\addplot[body=cdn] table[x=d,y=c,y error plus expr={(\thisrow{c}<\thisrow{o})*(\thisrow{o}-\thisrow{c})},y error minus expr=0] \candles;
\addplot[tvorange,line width=1.9pt,smooth] table[x=d,y=p] \mafour;
\addplot[tvred,line width=1.1pt,smooth] table[x=d,y=p] \maone;
\addplot[tvblue,line width=1.1pt,smooth] table[x=d,y=p] \mathree;
\end{axis}

% annotations
\begin{axis}[pxaxis]
\K{682.6}{141.7}{174.762K}
\K{885}{127.7}{129.481K}
\K{1368}{230.7}{8.724K}
\K{342}{288}{143.613K}
\K{1238}{101}{136.258K}
\K[kgreen]{812}{320}{131.455K}
\K[kgreen]{1002}{381.7}{144.641K}
\K[kgreen]{1303}{429}{189.596K}
\K[kgreen]{427.7}{470.7}{101.475K}
\K[kgreen]{537}{498}{14.34K}
\K[kgreen]{41}{811.7}{85.697K}
\sellb{165.6}{482}
\sellb{211.6}{460}
\sellb{270.5}{345}
\sellb{342.6}{266}
\sellb{689}{159}
\sellb{1094.5}{200}
\sellb{1107.5}{193}
\sellb{1120.5}{191}
\sellb{1238}{90}
\buyb{54.6}{805}
\buyb{976.6}{328}
\buyb{1002}{377}
\buyb{1447.5}{453}
\addplot[tvyellow,line width=1pt] coordinates {(13,317.7) (1930,317.7)};
\addplot[cdn,line width=.5pt,densely dotted] coordinates {(13,702) (1930,702)};
\addplot[white,line width=1pt] coordinates {(13,759) (1930,759)};
\addplot[white,line width=1pt] coordinates {(13,826) (1930,826)};
\addplot[pink,line width=1.5pt] coordinates {(13,207.7) (1929,62.6)};
\addplot[white,line width=1.2pt,dash pattern=on 5.5pt off 9pt] coordinates {(270,740) (739,305)};
\addplot[white,line width=1.2pt] coordinates {(722.8,301.7) (729.5,301.7)};
\addplot[white,line width=1.2pt] coordinates {(739.7,304) (739.7,320)};
\addplot[white,line width=1.2pt,dash pattern=on 5.5pt off 8.5pt] coordinates {(1245,267) (1631,735)};
\addplot[white,line width=1.2pt] coordinates {(1618,740.7) (1631,741.7)};
\addplot[white,line width=1.2pt] coordinates {(1638,723) (1636,730.7)};
\addplot[white,line width=2.8pt] coordinates {(654,313.3) (1603.8,459)};
\addplot[white,line width=2.5pt] coordinates {(13,701.7) (54,778) (92.9,645.7) (126,673) (165,522.7) (237.5,546.7) (341.5,316) (446.4,455.7) (465.6,328) (551,457) (602.7,340) (636,364) (693.75,150) (812,300) (877.7,154) (989.3,360) (1106.7,216) (1165.6,346.7) (1230,130) (1341.4,406.7) (1374.4,268.3) (1420,430) (1506.3,333.3) (1716,754)};
\addplot[white,line width=2.5pt] coordinates {(1679,740) (1716,755) (1728.7,716)};
\node[anchor=base east,inner sep=0pt,text=white,font=\fs{28}\bfseries] at (203,252) {et Cycle};
\node[anchor=base east,inner sep=0pt,text=white,font=\fs{27.5}\bfseries] at (61,689) {on};
\node[anchor=base west,inner sep=0pt,text=white,font=\fs{27.5}\bfseries] at (772,272.7) {Distribution};
\node[anchor=base west,inner sep=0pt,text=white,font=\fs{28.5}\bfseries] at (1640,803) {Target \#1?};
\node[anchor=base,inner sep=0pt,text=white,font=\fs{16.6}\bfseries,rotate=4.3] at (1565,79) {Pi Cycle Top TL};
\node[anchor=base west,inner sep=0pt,text=white,font=\fs{12}\bfseries] at (65.6,800) {spring};
\node[anchor=base west,inner sep=0pt,text=white,font=\fs{12}\bfseries] at (1261,146.7) {spring};
\node[anchor=base west,inner sep=0pt,text=white,font=\fs{12}\bfseries] at (451,582.7) {Markup};
\node[anchor=base west,inner sep=0pt,text=white,font=\fs{12.2}\bfseries] at (1261,580) {Markdown};
\end{axis}

% HLC3 pane
\begin{axis}[pane,height=33pt,at={(6.5pt,-431.5pt)},ymin=9,ymax=207,y dir=reverse]
\addplot[lineg,line width=1pt] coordinates {(25.48,113) (3003,113)};
\addplot[gray!70!white,line width=.55pt,smooth] table[x=x,y=z] \hlcA;
\addplot[gray!70!white,line width=.55pt,smooth] table[x expr=\thisrow{x}+1568,y=z] \hlcB;
\addplot[only marks,mark=*,mark size=2.1pt,tvred] coordinates {(30,130)(324,42)(414,58)(530,43)(671,48)(928,92)(990,118)(1170,92)(1220,80)(1260,75)(1350,33)(1530,88)(1747,72)(1863,145)(1928,170)(2143,61)(2170,61)(2196,61)(2427,64)(2618,151)(2708,97)(2888,154)};
\addplot[only marks,mark=*,mark size=2.1pt,tvgreen] coordinates {(107,177)(402,58)(465,74)(606,65)(863,150)(979,115)(1069,160)(1183,91)(1233,77)(1272,73)(1503,92)(1606,160)(1848,145)(1913,167)(1964,176)(2156,61)(2182,58)(2311,157)(2592,157)(2631,151)(2837,175)};
\end{axis}

% RSI pane
\begin{axis}[pane,height=33.5pt,at={(6.5pt,-464.5pt)},ymin=207,ymax=408,y dir=reverse]
\addplot[draw=none,fill=band] coordinates {(25.48,253)(3782.8,253)(3782.8,364)(25.48,364)} -- cycle;
\addplot[gray,line width=.45pt,dash pattern=on 3pt off 2.5pt] coordinates {(25.48,253)(3782.8,253)};
\addplot[gray,line width=.45pt,dash pattern=on 3pt off 2.5pt] coordinates {(25.48,307)(3782.8,307)};
\addplot[gray,line width=.45pt,dash pattern=on 3pt off 2.5pt] coordinates {(25.48,364)(3782.8,364)};
\addplot[rsi,line width=.65pt] table[x=x,y=z] \rsiA;
\addplot[rsi,line width=.65pt] table[x expr=\thisrow{x}+1568,y=z] \rsiB;
\addplot[black,line width=.5pt,densely dotted] table[x=x,y=z] \haA;
\addplot[black,line width=.5pt,densely dotted] table[x expr=\thisrow{x}+1568,y=z] \haB;
\addplot[white,line width=.75pt,smooth] table[x=x,y=z] \rmaA;
\addplot[white,line width=.75pt,smooth] table[x expr=\thisrow{x}+1568,y=z] \rmaB;
\addplot[only marks,mark=square*,mark size=.45pt,green] coordinates {(145,372)(158,370)(172,368)(275,354)(288,350)(310,342)(405,326)(480,320)(491,316)(505,312)(518,308)(645,292)(660,288)(672,285)(903,288)(915,288)(1095,296)(1285,277)(1298,272)(1312,267)(1325,263)(1338,258)(1658,262)(1698,255)(1721,247)(2108,267)(2121,265)(2348,268)(2361,262)(2374,255)(2387,247)(2400,243)(2413,240)(2426,240)(2658,278)(2671,275)(2683,272)(2696,269)};
\addplot[only marks,mark=square*,mark size=.4pt,red] coordinates {(80,371)(95,373)(108,375)(760,287)(772,289)(1793,254)(1808,258)(1823,262)(1873,266)(1888,268)(1900,271)(1963,280)(2258,265)(2271,268)(2284,272)(2297,273)(2310,273)};
\addplot[only marks,mark=square*,mark size=.65pt,red] coordinates {(2465,240)(2478,247)(2491,258)(2504,260)(2517,262)(2529,265)(2542,268)(2555,273)(2567,278)(2580,282)(2785,283)(2798,288)(2811,293)(2824,297)(2837,300)(2850,301)(2900,300)(2913,308)(2926,312)(2939,317)(2952,322)(2965,326)(2978,330)(2991,334)(3004,341)};
\end{axis}

% MACD pane
\begin{axis}[pane,height=41pt,at={(6.5pt,-498pt)},ymin=-143,ymax=103]
\addplot[gray,line width=.45pt,dash pattern=on 3pt off 2.5pt] coordinates {(25.48,0)(3782.8,0)};
\addplot[ycomb,histt,line width=2.45pt] table[x expr=389.06+12.813*\thisrow{d},y expr={(\thisrow{hc}==0)*\thisrow{h}}] \daily;
\addplot[ycomb,histl,line width=2.45pt] table[x expr=389.06+12.813*\thisrow{d},y expr={(\thisrow{hc}==1)*\thisrow{h}}] \daily;
\addplot[ycomb,histp,line width=2.45pt] table[x expr=389.06+12.813*\thisrow{d},y expr={(\thisrow{hc}==2)*\thisrow{h}}] \daily;
\addplot[ycomb,tvred,line width=2.45pt] table[x expr=389.06+12.813*\thisrow{d},y expr={(\thisrow{hc}==3)*\thisrow{h}}] \daily;
\addplot[tvblue,line width=.7pt] table[x=x,y expr=511-\thisrow{z}] \mcdA;
\addplot[tvblue,line width=.7pt] table[x expr=\thisrow{x}+1568,y expr=511-\thisrow{z}] \mcdB;
\addplot[macdorange,line width=.75pt,smooth] table[x=x,y expr=511-\thisrow{z}] \sigA;
\addplot[macdorange,line width=.75pt,smooth] table[x expr=\thisrow{x}+1568,y expr=511-\thisrow{z}] \sigB;
\end{axis}

% Chaikin pane
\begin{axis}[pane,height=31.5pt,at={(6.5pt,-539pt)},ymin=-83,ymax=106]
\addplot[draw=none,fill=cmfg] table[x=x,y expr={max(760-\thisrow{z},0)}] \cmfA \closedcycle;
\addplot[draw=none,fill=cmfg] table[x expr=\thisrow{x}+1568,y expr={max(760-\thisrow{z},0)}] \cmfB \closedcycle;
\addplot[draw=none,fill=cmfr] table[x=x,y expr={min(760-\thisrow{z},0)}] \cmfA \closedcycle;
\addplot[draw=none,fill=cmfr] table[x expr=\thisrow{x}+1568,y expr={min(760-\thisrow{z},0)}] \cmfB \closedcycle;
\addplot[cmfl,line width=.5pt] coordinates {(3003,0)(3782.8,0)};
\addplot[cmfg!45!cmfl,line width=1pt] coordinates {(25.48,0)(3003,0)};
\addplot[cmfl,line width=1.2pt] table[x=x,y expr=760-\thisrow{z}] \cmfA;
\addplot[cmfl,line width=1.2pt] table[x expr=\thisrow{x}+1568,y expr=760-\thisrow{z}] \cmfB;
\end{axis}

% HMV volume pane
\begin{axis}[pane,height=29pt,at={(6.5pt,-570.5pt)},ymin=-16,ymax=158]
\addplot[draw=none,fill=HMVa] coordinates {(25.48,136)(1000,135)(2000,133)(2400,128)(2700,126)(2800,121)(3003,111)(3003,83)(2800,93)(2100,96)(25.48,103)} -- cycle;
\addplot[draw=none,fill=HMVb] coordinates {(25.48,103)(2100,96)(2800,93)(3003,83)(3003,56)(2100,66)(25.48,68)} -- cycle;
\addplot[draw=none,fill=HMVc] coordinates {(25.48,68)(2100,66)(3003,56)(3003,36)(25.48,36)} -- cycle;
\addplot[draw=none,fill=HMVd] coordinates {(25.48,36)(3003,36)(3003,0)(25.48,0)} -- cycle;
\addplot[ycomb,volt,line width=2.45pt] table[x expr=389.06+12.813*\thisrow{d},y expr={(\thisrow{vc}==0)*\thisrow{v}}] \daily;
\addplot[ycomb,voll,line width=2.45pt] table[x expr=389.06+12.813*\thisrow{d},y expr={(\thisrow{vc}==1)*\thisrow{v}}] \daily;
\addplot[ycomb,volyellow,line width=2.45pt] table[x expr=389.06+12.813*\thisrow{d},y expr={(\thisrow{vc}==2)*\thisrow{v}}] \daily;
\addplot[ycomb,macdorange,line width=2.45pt] table[x expr=389.06+12.813*\thisrow{d},y expr={(\thisrow{vc}==3)*\thisrow{v}}] \daily;
\end{axis}

% time scale
\begin{axis}[scale only axis,width=958.5pt,height=30pt,at={(6.5pt,-599.5pt)},anchor=north west,
 xmin=-28.38,xmax=264.87,ymin=0,ymax=1,axis line style={draw=none},major tick length=0pt,
 axis x line*=bottom,axis y line=none,
 xtick={0,31,61,92,123,153,184,214,245},
 xticklabels={May,Jun,Jul,Aug,Sep,Oct,Nov,Dec,\textbf{2026}},
 xticklabel style={text=tick,font=\fs{7.7},anchor=center,inner sep=0pt},
]
\addplot[draw=none] coordinates {(0,0.5)};
\end{axis}

% pane dividers
\foreach \yy in {863,929,996,1078,1141,1199} {\draw[white!88!black,line width=.55pt] (13,\yy) -- (2032,\yy);}
\draw[chart!70!white,line width=.3pt] (1930,35) -- (1930,863);

% header and legends
\T[white!72!black]{13}{26}{stewdamus created with TradingView.com, Nov 21, 2025 07:32 UTC-5}
\T{23}{61}{Bitcoin / U.S. Dollar · 1D · INDEX}
\T{254}{61}{O} \T[cdn]{265}{61}{86,584.22}
\T{342}{61}{H} \T[cdn]{353}{61}{87,440.91}
\T{430}{61}{L} \T[cdn]{438}{61}{80,619.71}
\T{515}{61}{C} \T[cdn]{524}{61}{81,596.33}
\T[cdn]{601}{61}{−5,000.64 (−5.77\%)}
\T{23}{83}{10 in 1 MAs}
\T[cdn]{112}{83}{110,321.88} \T{198}{83}{\nul}
\T[tvblue]{219}{83}{107,634.04}
\T[tvorange]{303.6}{83}{102,875.69}
\T{389}{83}{\nul} \T{410}{83}{\nul} \T{431}{83}{\nul} \T{452}{83}{\nul}
\T{23}{105}{VRVP}
\T[vdg]{70.5}{105}{3.78\,K} \T[vdr]{120}{105}{5.64\,K} \T[white!20!chart]{169}{105}{9.42\,K}
\T{23}{127}{Dots\_Blocks [Stewdamus]}
\T{23}{890}{HLC3} \T{67}{890}{0.00} \T{104.6}{890}{−78.53} \T{166}{890}{\nul} \T{186}{890}{\nul}
\T{23}{956}{RSI}
\T{23}{978}{Smoothed Ha Candles}
\T{23}{1023}{MACD} \T[tvred]{75}{1023}{−855.48} \T[tvblue]{139}{1023}{−3,038.27} \T[macdorange]{214}{1023}{−2,182.79}
\T{23}{1105}{Chaikin Money Flow} \T[cmfl]{172}{1105}{−0.30} \T{223.5}{1105}{\nul}
\T{23}{1168}{HMV [xdecow]} \T[volyellow]{132.6}{1168}{22.69\,K}
\T{196}{1168}{\nul} \T{217}{1168}{\nul} \T{238}{1168}{\nul} \T{259}{1168}{\nul}
\T{23}{1226}{P/E ratio: This fundamental metric isn't available for this symbol.}
% right-hand scale
\draw[chart!70!white,line width=.6pt,rounded corners=1pt] (1932,40) rectangle (2030,74);
\T{1942}{62}{USD}
\T{1943}{1035}{0.00}
\T{1943}{1118}{0.00}
\T{1943}{1200}{0}
\T{1943}{1225}{0.000}
\tagb{1931}{2028}{293.3}{315}{tvyellow}{black}{}{110,944.69}
\tagb{1794}{2028}{315.3}{337.7}{tvred}{white}{10 in 1 MAs:MA 1}{110,321.88}
\tagb{1794}{2028}{350}{372.7}{tvblue}{white}{10 in 1 MAs:MA 3}{107,634.04}
\tagb{1794}{2028}{412.3}{434.3}{tvorange}{black}{10 in 1 MAs:MA 4}{102,875.69}
\fill[cdn,rounded corners=1pt] (1931,691) rectangle (2018.5,731.7);
\T[white]{1943}{707}{81,596.33} \T[white]{1943}{725}{11:27:27}
\fill[white,rounded corners=1pt] (1931,748.3) rectangle (2018.5,770.7);
\T[black]{1943}{764.5}{77,221.24}
\fill[white,rounded corners=1pt] (1931,815.3) rectangle (2018.5,837.7);
\T[black]{1943}{831.5}{72,070.57}
\tagb{1890}{1979.3}{887.3}{909.3}{white}{black}{Plot}{0.00}
\tagb{1794}{1996.7}{909.3}{929}{tvred}{white}{Buy and sell circle}{−41.49}
\tagb{1822}{1988.3}{952.3}{975}{white}{black}{RSI-based MA}{33.47}
\tagb{1896}{1988.3}{975}{996}{rsitag}{white}{RSI}{20.59}
\tagb{1846}{2005.7}{1031.3}{1053.3}{tvred}{white}{Histogram}{−855.48}
\fill[tvblue] (1878,1075) rectangle (2018.7,1078);
\tagb{1877}{2018.7}{1053.3}{1075.3}{macdorange}{white}{Signal}{−2,182.79}
\tagb{1834}{1988.3}{1119.3}{1141}{cmfl}{tick}{Money Flow}{−0.30}
\tagb{1865}{1999.7}{1168.3}{1190.7}{volyellow}{black}{Volume}{22.69\,K}
% event icons
\draw[rsi!80!white,line width=.7pt,fill=chart] (1532,846) circle (12);
\node[text=rsi!80!white,font=\symf\fs{8},inner sep=0pt] at (1532,846) {⚡};
\draw[cdn,line width=.9pt,fill=chart] (1565,846) circle (11);
\draw[cdn,line width=.9pt,fill=chart] (1559,846) circle (11.5);
\fill[white] (1557,846) circle (10);
\fill[tvred] (1547,847) rectangle (1567,851);
\fill[tvred] (1549,841) rectangle (1567,844);
\fill[tvblue!80!black] (1548,837) rectangle (1557,846);
% logo
\fill[white!85!black] (15,1304) -- (33,1304) -- (33,1322) -- (25,1322) -- (25,1311) -- (15,1311) -- cycle;
\fill[white!85!black] (38,1308) circle (4);
\fill[white!85!black] (44.5,1304) -- (54,1304) -- (46,1322) -- (37,1322) -- cycle;
\node[anchor=base west,inner sep=0pt,text=white!85!black,font=\fs{14.2}\bfseries] at (63,1322.7) {TradingView};
\end{tikzpicture}
\end{document}
